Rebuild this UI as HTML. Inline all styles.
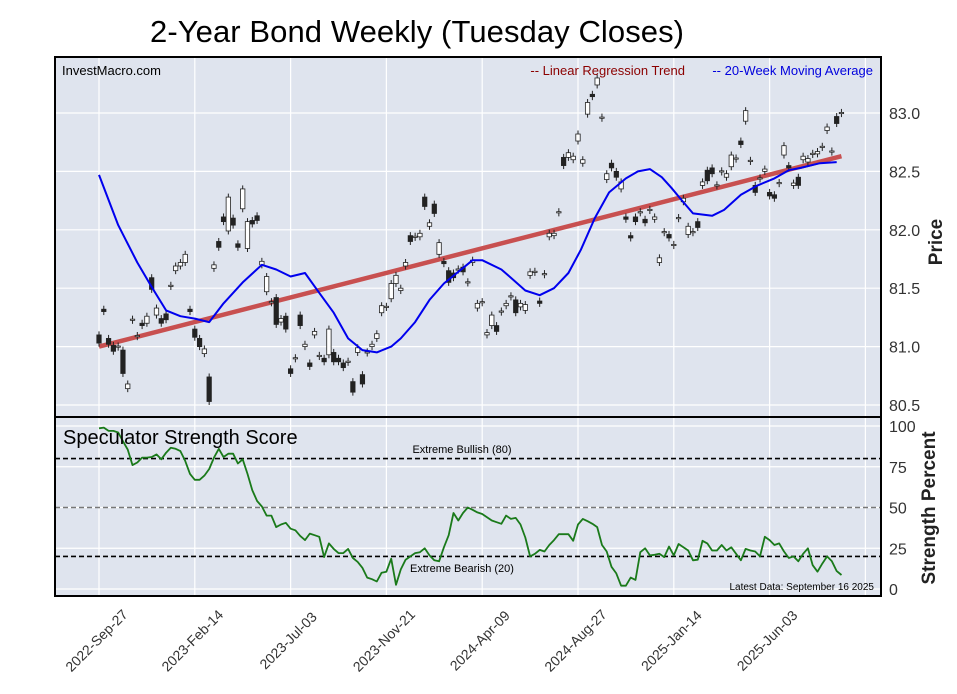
<!DOCTYPE html>
<html><head><meta charset="utf-8"><style>
html,body{margin:0;padding:0;background:#fff;}
svg{display:block;font-family:"Liberation Sans",Arial,sans-serif;}
</style></head><body>
<svg id="chart" width="957" height="694" viewBox="0 0 957 694" xmlns="http://www.w3.org/2000/svg">
<text x="417" y="42" font-size="31" text-anchor="middle" fill="#000" textLength="534">2-Year Bond Weekly (Tuesday Closes)</text>
<rect x="55" y="57" width="826" height="360" fill="#dfe4ee"/>
<rect x="55" y="417" width="826" height="179" fill="#dfe4ee"/>
<g id="grid"></g>
<g id="refs"></g>
<g id="reg"></g>
<g id="candles"></g>
<g id="ma"></g>
<g id="strength"></g>
<rect x="55" y="57" width="826" height="539" fill="none" stroke="#000" stroke-width="2"/>
<line x1="55" y1="417" x2="881" y2="417" stroke="#000" stroke-width="2"/>
<text x="62" y="75" font-size="13" fill="#000">InvestMacro.com</text>
<text x="685" y="75" font-size="13" fill="#8b0000" text-anchor="end">-- Linear Regression Trend</text>
<text x="873" y="75" font-size="13" fill="#0000dd" text-anchor="end">-- 20-Week Moving Average</text>
<text x="63" y="444" font-size="20" fill="#000">Speculator Strength Score</text>
<text x="462" y="453" font-size="11" fill="#000" text-anchor="middle">Extreme Bullish (80)</text>
<text x="462" y="572" font-size="11" fill="#000" text-anchor="middle">Extreme Bearish (20)</text>
<text x="874" y="590" font-size="10" fill="#000" text-anchor="end">Latest Data: September 16 2025</text>
<text transform="translate(942,242) rotate(-90)" font-size="19" font-weight="bold" fill="#222" text-anchor="middle">Price</text>
<text transform="translate(935,508) rotate(-90)" font-size="19" font-weight="bold" fill="#222" text-anchor="middle">Strength Percent</text>
<g id="ticks"></g>
</svg>
<script>
const xTickLabels = ["2022-Sep-27","2023-Feb-14","2023-Jul-03","2023-Nov-21","2024-Apr-09","2024-Aug-27","2025-Jan-14","2025-Jun-03"];
const xTickWeeks = [0,20,40,60,80,100,120,140];
const priceTicks = [80.5,81.0,81.5,82.0,82.5,83.0];
const strengthTicks = [0,25,50,75,100];
const opens = [81.10,81.32,81.07,81.01,80.995,80.97,80.64,81.225,81.085,81.20,81.20,81.59,81.27,81.24,81.28,81.515,81.65,81.69,81.72,81.32,81.15,81.07,80.94,80.74,81.67,81.90,82.11,81.99,82.10,81.88,82.18,81.84,82.08,82.12,81.70,81.47,81.375,81.42,81.21,81.26,80.81,80.895,81.27,81.00,80.86,81.10,80.915,80.90,80.93,80.95,80.90,80.86,80.865,80.70,80.95,80.76,80.945,81.00,81.07,81.29,81.335,81.41,81.54,81.48,81.69,81.95,81.935,81.94,82.28,82.03,82.22,81.79,81.73,81.65,81.63,81.655,81.68,81.545,81.72,81.33,81.375,81.10,81.18,81.18,81.295,81.35,81.425,81.40,81.34,81.31,81.61,81.635,81.39,81.615,81.94,81.95,82.145,82.62,82.62,82.60,82.76,82.57,82.99,83.16,83.24,82.955,82.43,82.57,82.50,82.35,82.11,81.95,82.11,82.145,82.09,82.165,82.09,81.72,81.975,81.96,81.865,82.095,82.24,81.96,81.975,82.07,82.38,82.51,82.53,82.375,82.495,82.45,82.54,82.605,82.76,82.93,82.585,82.38,82.435,82.50,82.32,82.30,82.395,82.64,82.55,82.38,82.45,82.60,82.58,82.645,82.65,82.705,82.85,82.665,82.97,82.995];
const closes = [81.03,81.30,81.02,80.96,81.005,80.77,80.68,81.235,81.095,81.18,81.26,81.49,81.33,81.20,81.23,81.525,81.69,81.72,81.79,81.30,81.08,81.00,80.98,80.53,81.70,81.85,82.07,82.28,82.04,81.85,82.35,82.07,82.05,82.08,81.73,81.60,81.385,81.19,81.24,81.15,80.77,80.905,81.18,81.02,80.83,81.13,80.925,80.87,81.15,80.87,80.87,80.82,80.875,80.61,80.99,80.68,80.955,81.02,81.11,81.35,81.345,81.54,81.61,81.50,81.72,81.90,81.945,81.97,82.20,82.06,82.14,81.89,81.71,81.55,81.59,81.665,81.64,81.555,81.74,81.37,81.385,81.12,81.27,81.13,81.305,81.37,81.435,81.29,81.37,81.36,81.64,81.645,81.37,81.625,81.97,81.97,82.155,82.55,82.66,82.63,82.82,82.60,83.09,83.14,83.30,82.965,82.48,82.53,82.45,82.41,82.09,81.93,82.07,82.155,82.06,82.175,82.11,81.76,81.985,81.93,81.875,82.105,82.27,82.03,81.985,82.02,82.41,82.42,82.48,82.385,82.505,82.48,82.64,82.615,82.73,83.02,82.595,82.32,82.445,82.52,82.29,82.27,82.405,82.72,82.53,82.40,82.38,82.63,82.61,82.655,82.67,82.715,82.88,82.675,82.91,83.005];
const maWeeks = [0,4,8,11,14,17,20,23,26,30,34,37,40,43,46,49,52,55,58,61,63,66,69,72,75,78,80,84,86,89,92,95,98,100.6,103.5,106.5,110,112.5,115,117.5,119.5,121.5,124,128,130.5,134,137.5,141,144,146.5,150.5,154];
const maValues = [82.47,82.04,81.72,81.51,81.31,81.26,81.24,81.21,81.37,81.55,81.70,81.66,81.60,81.63,81.46,81.29,81.07,80.97,80.95,81.00,81.07,81.21,81.40,81.54,81.64,81.74,81.74,81.66,81.59,81.48,81.44,81.50,81.63,81.83,82.10,82.32,82.44,82.50,82.52,82.45,82.36,82.26,82.14,82.12,82.17,82.30,82.38,82.44,82.51,82.53,82.57,82.58];
const regStartValue = 81.00;
const regEndValue = 82.63;
const strengthValues = [98.6,99,97,97,96,90.6,85.6,76,77.6,80.6,80.6,81,82.6,79.6,83.6,86.6,86,84.6,78.6,70.6,67,67,69.6,73.6,80.6,86,81,83,83,77,79.6,70.6,60.6,54,50.6,45,45,38,39.6,40.6,37,36,32.6,30,34,33,32,19.6,28,24.6,22,22,24.6,19,16.6,13,7,6,4.6,10,10.6,18.6,2.6,12,18,20,22,22.6,25,20.6,17.6,17,25.6,33,46.6,42,46.6,50,48.6,47,46,44,42,41,40,45,43,43.6,39.6,31.6,20,21.6,24,23,27,30,33.6,33.6,33.6,29.6,39.6,43,41.6,40,38,27,23,13.6,9.6,2,2,7,5.6,22.6,25,20.6,21,21.6,19.6,26,20.6,27.6,25.6,23.6,17.6,18,29.6,28,23.6,23.6,27,23.6,25.6,21.6,17.6,24.6,23.6,23,20,32,30,27,28,23,19,20,17,21.6,25,14.6,10.6,15.6,20,17,11,8.6];

const NS="http://www.w3.org/2000/svg";
const X0=99, XW=4.79;
function xW(i){return X0+XW*i;}
function yP(p){return 113+(83-p)*116.8;}
function yS(v){return 589-v*1.63;}
function mk(tag,attrs,parent){const e=document.createElementNS(NS,tag);for(const k in attrs)e.setAttribute(k,attrs[k]);document.getElementById(parent).appendChild(e);return e;}

xTickWeeks.forEach((w,k)=>{
  const g=mk('line',{x1:xW(w),x2:xW(w),y1:57,y2:596,stroke:'#fff','stroke-width':1.2},'grid');
  
  
  const t=mk('text',{transform:`translate(${xW(w)+1},${644}) rotate(-45)`,'font-size':14,fill:'#333','text-anchor':'middle'},'ticks');
  t.textContent=xTickLabels[k];
  
  
});
{const g=mk('line',{x1:xW(160),x2:xW(160),y1:57,y2:596,stroke:'#fff','stroke-width':1.2},'grid');

}
priceTicks.forEach(p=>{
  const g=mk('line',{x1:55,x2:881,y1:yP(p),y2:yP(p),stroke:'#fff','stroke-width':1.2},'grid');
  
  
  const t=mk('text',{x:889,y:yP(p)+6,'font-size':16,fill:'#333'},'ticks');
  t.textContent=p.toFixed(1);
  
  
});
strengthTicks.forEach(v=>{
  const g=mk('line',{x1:55,x2:881,y1:yS(v),y2:yS(v),stroke:'#fff','stroke-width':1.2},'grid');
  
  
  const t=mk('text',{x:889,y:yS(v)+6,'font-size':16,fill:'#333'},'ticks');
  t.textContent=String(v);
  
  
});
[[80,'#000'],[50,'#777'],[20,'#000']].forEach(r=>{
  const l=mk('line',{x1:55,x2:881,y1:yS(r[0]),y2:yS(r[0]),stroke:r[1],'stroke-width':1.6,'stroke-dasharray':'5,3'},'refs');
  
  
});
{const l=mk('line',{x1:xW(0),y1:yP(regStartValue),x2:xW(opens.length-1),y2:yP(regEndValue),stroke:'#c85050','stroke-width':4.5},'reg');

}
opens.forEach((o,i)=>{
  const c=closes[i], hi=Math.max(o,c), lo=Math.min(o,c), x=xW(i);
  const w=mk('line',{x1:x,x2:x,y1:yP(hi+0.03),y2:yP(lo-0.03),stroke:'#222','stroke-width':1},'candles');
  
  
  const up=c>=o;
  const b=mk('rect',{x:x-2.2,y:yP(hi),width:4.4,height:Math.max(1.2,yP(lo)-yP(hi)),fill:up?'#fff':'#222',stroke:'#222','stroke-width':0.8},'candles');
  
  
});
{let d='';maWeeks.forEach((w,k)=>{d+=(k?'L':'M')+xW(w).toFixed(1)+','+yP(maValues[k]).toFixed(1);});
const p=mk('path',{d:d,fill:'none',stroke:'#0000ee','stroke-width':2,'stroke-linejoin':'round'},'ma');

}
{let d='';strengthValues.forEach((v,i)=>{d+=(i?'L':'M')+xW(i).toFixed(1)+','+yS(v).toFixed(1);});
const p=mk('path',{d:d,fill:'none',stroke:'#1a7a1a','stroke-width':1.8,'stroke-linejoin':'round'},'strength');

}
</script>
</body></html>
